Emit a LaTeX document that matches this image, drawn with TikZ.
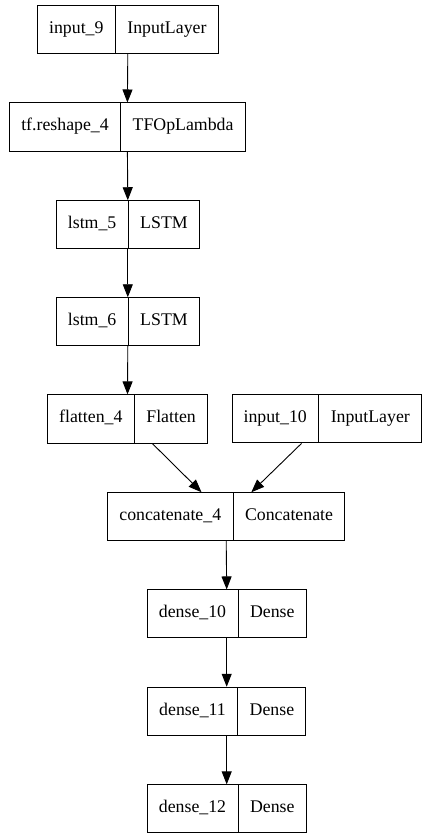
\documentclass[tikz,border=0pt]{standalone}
\usepackage{fontspec}
\setmainfont{Liberation Serif}
\usetikzlibrary{shapes.multipart,arrows.meta}
\newcommand{\recstrut}{\rule[-4.6pt]{0pt}{17pt}}

\begin{document}
\begin{tikzpicture}[x=1pt,y=-1pt,
layer/.style={draw,line width=0.9pt,rectangle split,rectangle split horizontal,rectangle split parts=2,inner xsep=11.5pt,inner ysep=15.5pt,font=\fontsize{17.8}{20}\selectfont},
link/.style={-{Triangle[length=13pt,width=10pt]},line width=0.9pt}
]
\useasboundingbox (0,0) rectangle (427,839);

% left branch
\node[layer] (input9) at (127.8,29.3) {\recstrut input\_9\nodepart{two}\recstrut InputLayer};
\node[layer] (reshape4) at (127.4,127) {\recstrut tf.reshape\_4\nodepart{two}\recstrut TFOpLambda};
\node[layer] (lstm5) at (127.8,224.7) {\recstrut lstm\_5\nodepart{two}\recstrut LSTM};
\node[layer] (lstm6) at (127.8,321.7) {\recstrut lstm\_6\nodepart{two}\recstrut LSTM};
\node[layer] (flatten4) at (127.5,418.9) {\recstrut flatten\_4\nodepart{two}\recstrut Flatten};
% second input
\node[layer] (input10) at (326.7,418.9) {\recstrut input\_10\nodepart{two}\recstrut InputLayer};
% merged part
\node[layer] (concat4) at (226.2,516.7) {\recstrut concatenate\_4\nodepart{two}\recstrut Concatenate};
\node[layer] (dense10) at (226.7,613.9) {\recstrut dense\_10\nodepart{two}\recstrut Dense};
\node[layer] (dense11) at (226.7,711.2) {\recstrut dense\_11\nodepart{two}\recstrut Dense};
\node[layer] (dense12) at (226.7,808.8) {\recstrut dense\_12\nodepart{two}\recstrut Dense};

\draw[link] (input9.south) -- (reshape4.north);
\draw[link] (reshape4.south) -- (lstm5.north);
\draw[link] (lstm5.south) -- (lstm6.north);
\draw[link] (lstm6.south) -- (flatten4.north);
\draw[link] (flatten4) -- (concat4);
\draw[link] (input10) -- (concat4);
\draw[link] (concat4.south) -- (dense10.north);
\draw[link] (dense10.south) -- (dense11.north);
\draw[link] (dense11.south) -- (dense12.north);
\end{tikzpicture}
\end{document}
